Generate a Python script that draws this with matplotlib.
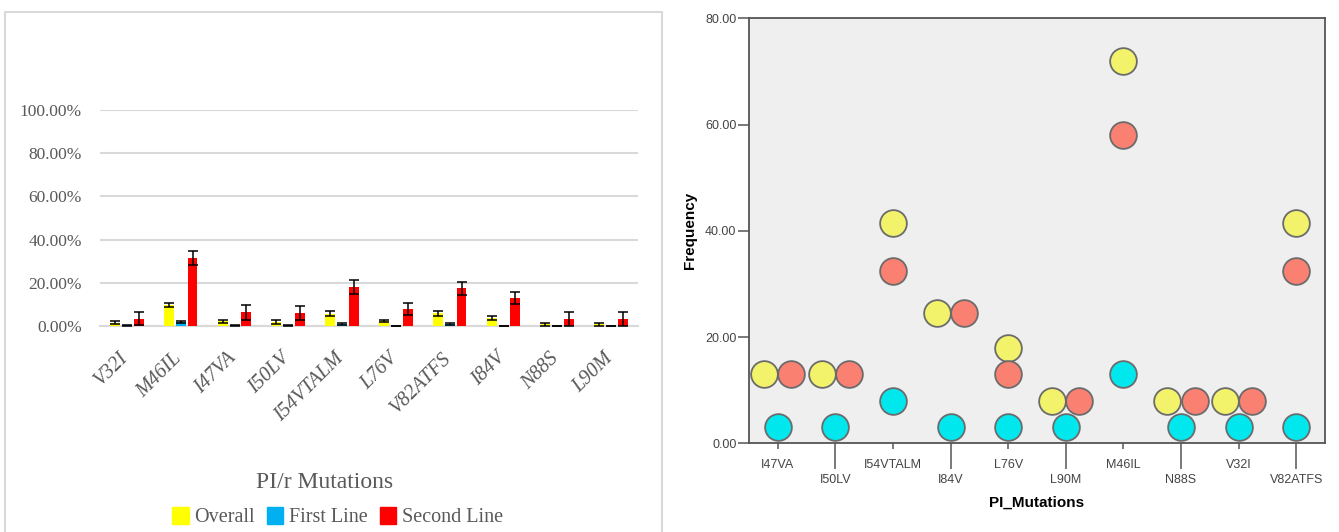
import numpy as np
import matplotlib.pyplot as plt
import matplotlib.transforms as mtransforms
from matplotlib.patches import Rectangle, Patch

# PI/r mutation prevalence (%) by treatment line
mut_pct = ['V32I', 'M46IL', 'I47VA', 'I50LV', 'I54VTALM', 'L76V', 'V82ATFS', 'I84V', 'N88S', 'L90M']
overall_pct = [1.5, 9.6, 2.3, 1.9, 5.7, 2.3, 5.8, 3.7, 0.8, 0.8]
overall_err = [0.7, 1.0, 0.7, 0.8, 1.1, 0.6, 1.0, 1.0, 0.6, 0.6]
first_pct = [0.4, 1.8, 0.3, 0.3, 0.9, 0.0, 0.9, 0.0, 0.0, 0.0]
first_err = [0.2, 0.5, 0.2, 0.2, 0.3, 0.0, 0.3, 0.0, 0.0, 0.0]
second_pct = [3.3, 31.5, 6.3, 5.9, 18.1, 7.8, 17.5, 12.9, 3.1, 3.1]
second_err = [3.0, 3.4, 3.3, 3.3, 3.2, 2.9, 3.0, 2.9, 3.3, 3.3]
pct_ticks = [0, 20, 40, 60, 80, 100]

# PI mutation frequencies
mut_freq = ['I47VA', 'I50LV', 'I54VTALM', 'I84V', 'L76V', 'L90M', 'M46IL', 'N88S', 'V32I', 'V82ATFS']
overall_freq = [13, 13, 41.5, 24.5, 18, 8, 72, 8, 8, 41.5]
first_freq = [3, 3, 8, 3, 3, 3, 13, 3, 3, 3]
second_freq = [13, 13, 32.5, 24.5, 13, 8, 58, 8, 8, 32.5]
freq_ticks = [0, 20, 40, 60, 80]

W, H = 1339, 532
fig = plt.figure(figsize=(W / 100, H / 100), dpi=100)
fig.patch.set_facecolor('white')

# ── left panel: grouped bars with error bars ─────────────
serif = ['Liberation Serif', 'DejaVu Serif']
grey = '#595959'

fig.add_artist(Rectangle((5 / W, -0.01), 657 / W, (H - 12) / H + 0.01,
                         transform=fig.transFigure, fill=False,
                         edgecolor='#d9d9d9', linewidth=1.5))

ax1 = fig.add_axes([100 / W, 206 / H, 538 / W, 216 / H])
x = np.arange(len(mut_pct))
bw, off = 0.18, 0.22
ebar = dict(ecolor='black', elinewidth=1.1, capsize=3.5, capthick=1.1)
ax1.bar(x - off, overall_pct, bw, yerr=overall_err, color='#ffff00',
        error_kw=ebar, zorder=3, label='Overall')
ax1.bar(x, first_pct, bw, yerr=first_err, color='#00b0f0',
        error_kw=ebar, zorder=3, label='First Line')
ax1.bar(x + off, second_pct, bw, yerr=second_err, color='#ff0000',
        error_kw=ebar, zorder=3, label='Second Line')

ax1.set_xlim(-0.5, len(mut_pct) - 0.5)
ax1.set_ylim(0, 100)
ax1.set_yticks(pct_ticks)
ax1.set_yticklabels([f'{v:.2f}%' for v in pct_ticks], family=serif,
                    fontsize=12.5, color=grey)
ax1.yaxis.grid(True, color='#d9d9d9', linewidth=1.5, zorder=0)
ax1.set_axisbelow(True)
for s in ['top', 'right', 'left']:
    ax1.spines[s].set_visible(False)
ax1.spines['bottom'].set_color('#d9d9d9')
ax1.spines['bottom'].set_linewidth(1.5)
ax1.tick_params(axis='both', length=0)
ax1.tick_params(axis='y', pad=13)
ax1.set_xticks(x)
ax1.set_xticklabels(mut_pct, rotation=45, ha='right', rotation_mode='anchor',
                    family=serif, style='italic', fontsize=14.5, color=grey)
ax1.tick_params(axis='x', pad=15)
# nudge the slanted labels so their ends sit under the group centres
shift = mtransforms.ScaledTranslation(-8 / 100, -2 / 100, fig.dpi_scale_trans)
for lbl in ax1.get_xticklabels():
    lbl.set_transform(lbl.get_transform() + shift)
fig.text(325 / W, 1 - 482 / H, 'PI/r Mutations', family=serif, fontsize=17,
         color=grey, ha='center', va='center')

handles = [Patch(color='#ffff00'), Patch(color='#00b0f0'), Patch(color='#ff0000')]
fig.legend(handles, ['Overall', 'First Line', 'Second Line'],
           loc='center', bbox_to_anchor=(338 / W, 1 - 517 / H), ncol=3,
           frameon=False, handlelength=0.8, handleheight=0.9,
           handletextpad=0.3, columnspacing=0.6,
           prop={'family': serif, 'size': 14.5}, labelcolor=grey)

# ── right panel: frequency dot plot ──────────────────────
ax2 = fig.add_axes([749 / W, 88.7 / H, 576 / W, 425 / H])
ax2.set_facecolor('#efefef')
pos = np.arange(len(mut_freq)) + 0.5
same = np.array(overall_freq) == np.array(second_freq)
dodge = np.where(same, 0.235, 0.0)
mk = dict(s=370, edgecolors='#6b6b6b', linewidths=1.3, zorder=3)
ax2.scatter(pos - dodge, overall_freq, color='#f2f26b', **mk)
ax2.scatter(pos + dodge, second_freq, color='#fa8072', **mk)
ax2.scatter(pos, first_freq, color='#00e8ee', **mk)

ax2.set_xlim(0, len(mut_freq))
ax2.set_ylim(0, 80)
ax2.set_yticks(freq_ticks)
ax2.set_yticklabels([f'{v:.2f}' for v in freq_ticks], fontsize=9,
                    color='#444444', family='Liberation Sans')
ax2.tick_params(axis='y', length=8, width=1.1, color='#555555', pad=1)

ax2.set_xticks(pos[0::2])
ax2.set_xticklabels(mut_freq[0::2], fontsize=9, color='#444444',
                    family='Liberation Sans')
ax2.set_xticks(pos[1::2], minor=True)
ax2.set_xticklabels(mut_freq[1::2], minor=True, fontsize=9, color='#444444',
                    family='Liberation Sans')
ax2.tick_params(axis='x', which='major', length=4, width=1.1,
                color='#555555', pad=7)
ax2.tick_params(axis='x', which='minor', length=19, width=1.1,
                color='#555555', pad=3)
for s in ax2.spines.values():
    s.set_color('#555555')
    s.set_linewidth(1.3)

ax2.set_ylabel('Frequency', fontsize=11, fontweight='bold',
               family='Liberation Sans', labelpad=6)
ax2.set_xlabel('PI_Mutations', fontsize=11, fontweight='bold',
               family='Liberation Sans', labelpad=7)

plt.savefig('out.png', dpi=100, facecolor='white')
